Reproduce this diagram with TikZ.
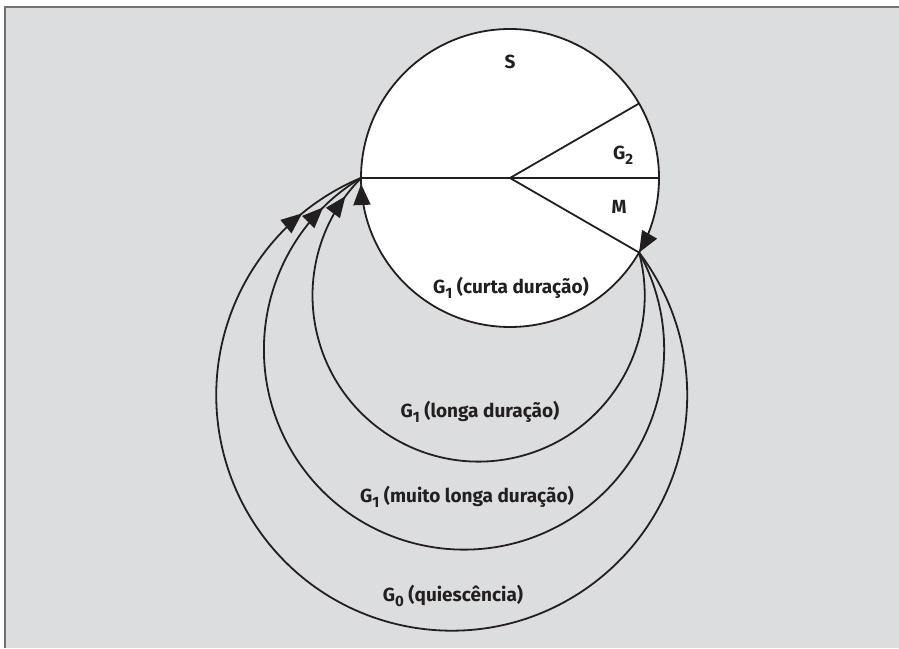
\documentclass[tikz,border=0pt]{standalone}
\usepackage{fontspec}
\setmainfont{Fira Sans}
\usetikzlibrary{arrows.meta,calc,decorations.markings}

\definecolor{panel}{HTML}{DCDDDF}
\definecolor{frame}{HTML}{707173}
\definecolor{ink}{HTML}{231F20}

% lowered phase index
\newcommand{\phidx}[1]{\raisebox{-0.5ex}{\fontsize{15}{15}\selectfont #1}}

\begin{document}
\begin{tikzpicture}[x=1pt,y=1pt,%
  cycle/.style={draw=ink,line width=1.8pt},%
  tip at/.style={postaction={decorate,decoration={markings,%
    mark=at position #1 with {\arrow{Triangle[length=21pt,width=17pt]}}}}},%
  phase/.style={font=\bfseries\fontsize{19}{21}\selectfont,text=ink,inner sep=0pt}]
  \useasboundingbox (0,0) rectangle (899,648);
  \fill[panel] (5,0) rectangle (899,641);
  \draw[frame,line width=1.5pt] (5,0) -- (5,641) -- (899,641);

  % the cell cycle
  \coordinate (c)  at (510,470);
  \coordinate (g1) at ($(c)+(180:149)$);
  \coordinate (m)  at ($(c)+(-30:149)$);
  \coordinate (g2) at ($(c)+(30:149)$);
  \coordinate (s)  at ($(c)+(0:149)$);

  \draw[cycle,fill=white,tip at=0.5833,tip at=-6pt]
    (g1) arc[start angle=180,end angle=-180,radius=149];
  \draw[cycle] (g1) -- (c) -- (s)
               (c) -- (g2)
               (c) -- (m);

  % exits from the cycle back to G1
  \draw[cycle,tip at=-24pt] (m) arc[start angle=15,end angle=-225,radius=166.1];
  \draw[cycle,tip at=-48pt] (m) arc[start angle=29,end angle=-239,radius=200.1];
  \draw[cycle,tip at=-69pt] (m) arc[start angle=37.3,end angle=-247.35,radius=235.5];

  \node[phase] (ls)  at (510,586) {S};
  \node[phase] (lg2) at (623,493) {G\phidx{2}};
  \node[phase] (lm)  at (619,441) {M};
  \node[phase] (lc)  at (511,360) {G\phidx{1} (curta duração)};
  \node[phase] (ll)  at (480,236) {G\phidx{1} (longa duração)};
  \node[phase] (lml) at (467,151) {G\phidx{1} (muito longa duração)};
  \node[phase] (lq)  at (453,52)  {G\phidx{0} (quiescência)};
\end{tikzpicture}
\end{document}
